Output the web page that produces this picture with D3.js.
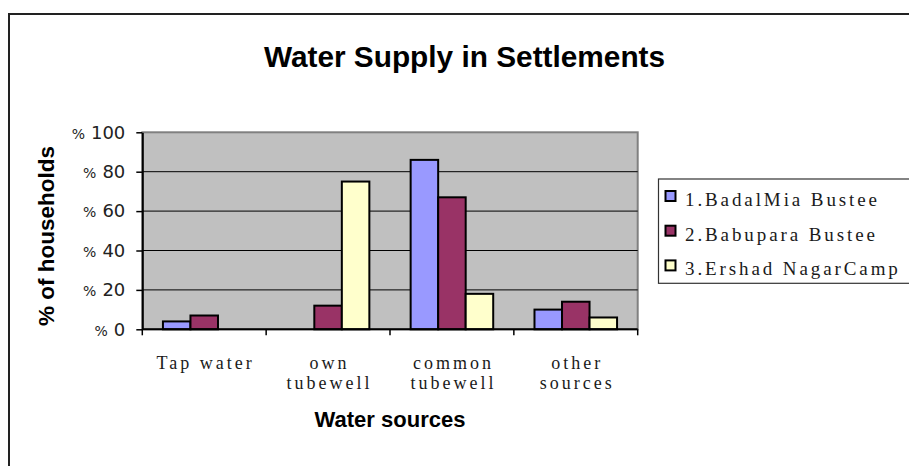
<!DOCTYPE html>
<html>
<head>
<meta charset="utf-8">
<script src="https://cdn.jsdelivr.net/npm/d3@7"></script>
<style>
  html, body { margin: 0; padding: 0; background: #fff; }
  svg { display: block; }
</style>
</head>
<body>
<svg id="chart" width="909" height="466"></svg>
<script>
// Share of households by water source, per settlement
const categories = [["Tap water"], ["own", "tubewell"], ["common", "tubewell"], ["other", "sources"]];
const seriesNames = ["1.BadalMia Bustee", "2.Babupara Bustee", "3.Ershad NagarCamp"];
const badalMia = [4, 0, 86, 10];
const babupara = [7, 12, 67, 14];
const ershadNagar = [0, 75, 18, 6];
const yTicks = [0, 20, 40, 60, 80, 100];
const seriesColors = ["#9999FF", "#993366", "#FFFFCC"];

const seriesValues = [badalMia, babupara, ershadNagar];
const catKeys = categories.map(c => c.join(" "));
const serif = "'Liberation Serif', 'Times New Roman', serif";
const sans = "'Liberation Sans', Arial, sans-serif";

const svg = d3.select("#chart");

// outer chart frame
svg.append("rect")
  .attr("x", 9).attr("y", 14)
  .attr("width", 920).attr("height", 470)
  .attr("fill", "#fff").attr("stroke", "#222").attr("stroke-width", 2);

const plot = { left: 142.3, right: 637.7, top: 132.3, bottom: 329.3 };

const x0 = d3.scaleBand()
  .domain(catKeys)
  .range([plot.left, plot.right])
  .paddingInner(1 / 3)
  .paddingOuter(1 / 6);

const x1 = d3.scaleBand()
  .domain(d3.range(seriesNames.length))
  .range([0, x0.bandwidth()])
  .padding(0);

const y = d3.scaleLinear().domain([0, 100]).range([plot.bottom, plot.top]);

// plot background
svg.append("rect")
  .attr("x", plot.left).attr("y", plot.top)
  .attr("width", plot.right - plot.left).attr("height", plot.bottom - plot.top)
  .attr("fill", "#C0C0C0").attr("stroke", "#808080").attr("stroke-width", 2);

// horizontal gridlines
svg.append("g")
  .selectAll("line")
  .data(yTicks.filter(d => d > 0 && d < 100))
  .join("line")
  .attr("x1", plot.left).attr("x2", plot.right)
  .attr("y1", d => y(d)).attr("y2", d => y(d))
  .attr("stroke", "#000").attr("stroke-width", 1);

// bars
const groups = svg.append("g")
  .selectAll("g")
  .data(catKeys)
  .join("g")
  .attr("transform", d => `translate(${x0(d)},0)`);

groups.selectAll("rect")
  .data((d, i) => seriesValues.map((vals, s) => ({ s, v: vals[i] })).filter(o => o.v > 0))
  .join("rect")
  .attr("x", d => x1(d.s))
  .attr("width", x1.bandwidth())
  .attr("y", d => y(d.v))
  .attr("height", d => y(0) - y(d.v))
  .attr("fill", d => seriesColors[d.s])
  .attr("stroke", "#000")
  .attr("stroke-width", 2);

// y axis
const yAxis = d3.axisLeft(y)
  .tickValues(yTicks)
  .tickSizeInner(6)
  .tickSizeOuter(0)
  .tickPadding(11);

const gy = svg.append("g")
  .attr("transform", `translate(${plot.left},0)`)
  .call(yAxis);
gy.select(".domain").attr("stroke", "#000").attr("stroke-width", 2);
gy.selectAll(".tick line").attr("stroke", "#000").attr("stroke-width", 1.5);
const tickText = gy.selectAll(".tick text")
  .attr("font-family", "'DejaVu Sans', sans-serif")
  .attr("font-size", 18)
  .attr("fill", "#222")
  .text(null);
tickText.append("tspan").attr("font-size", 14).text("%");
tickText.append("tspan").attr("dx", 6).text(d => d);

// x axis line and tick marks at category boundaries
svg.append("line")
  .attr("x1", plot.left).attr("x2", plot.right)
  .attr("y1", y(0)).attr("y2", y(0))
  .attr("stroke", "#000").attr("stroke-width", 2);

const boundaries = d3.range(catKeys.length + 1).map(i => x0.range()[0] + i * x0.step());
svg.append("g")
  .selectAll("line")
  .data(boundaries)
  .join("line")
  .attr("x1", d => d).attr("x2", d => d)
  .attr("y1", y(0)).attr("y2", y(0) + 6)
  .attr("stroke", "#000").attr("stroke-width", 1.5);

// category labels
const xl = svg.append("g")
  .selectAll("text")
  .data(categories)
  .join("text")
  .attr("y", 369)
  .attr("text-anchor", "middle")
  .attr("font-family", serif)
  .attr("font-size", 18)
  .attr("letter-spacing", 3)
  .attr("fill", "#1a1a1a");
xl.selectAll("tspan")
  .data((d, i) => d.map(t => ({ t, x: x0(catKeys[i]) + x0.bandwidth() / 2 + 1.5 })))
  .join("tspan")
  .attr("x", d => d.x)
  .attr("dy", (d, j) => j === 0 ? 0 : 20)
  .text(d => d.t);

// titles
svg.append("text")
  .attr("x", 464.5).attr("y", 67)
  .attr("text-anchor", "middle")
  .attr("font-family", sans)
  .attr("font-weight", "bold")
  .attr("font-size", 29.8)
  .text("Water Supply in Settlements");

svg.append("text")
  .attr("x", 390).attr("y", 427)
  .attr("text-anchor", "middle")
  .attr("font-family", sans)
  .attr("font-weight", "bold")
  .attr("font-size", 22)
  .text("Water sources");

svg.append("text")
  .attr("transform", `translate(54,236) rotate(-90)`)
  .attr("text-anchor", "middle")
  .attr("font-family", sans)
  .attr("font-weight", "bold")
  .attr("font-size", 22.5)
  .text("% of households");

// legend
const legend = svg.append("g").attr("transform", "translate(658.5,179)");
legend.append("rect")
  .attr("width", 270).attr("height", 104.3)
  .attr("fill", "#fff").attr("stroke", "#333").attr("stroke-width", 1.2);

const items = legend.selectAll("g.item")
  .data(seriesNames)
  .join("g")
  .attr("class", "item")
  .attr("transform", (d, i) => `translate(0,${21 + i * 34.7})`);

items.append("rect")
  .attr("x", 7).attr("y", -9)
  .attr("width", 10).attr("height", 10)
  .attr("fill", (d, i) => seriesColors[i])
  .attr("stroke", "#000").attr("stroke-width", 2);

items.append("text")
  .attr("x", 26.5).attr("y", 6)
  .attr("font-family", serif)
  .attr("font-size", 19)
  .attr("letter-spacing", 2.9)
  .attr("fill", "#1a1a1a")
  .text(d => d);
</script>
</body>
</html>
